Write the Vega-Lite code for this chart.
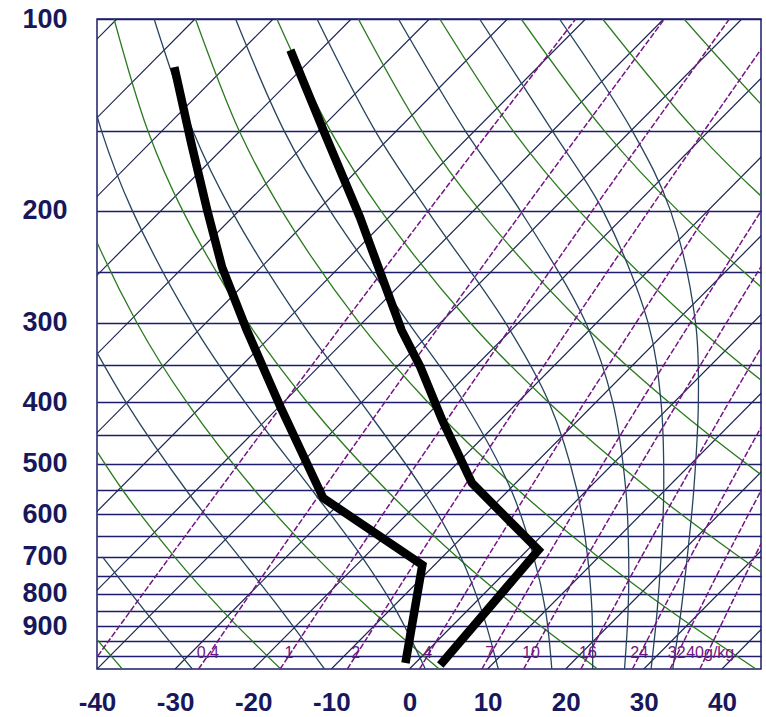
{
  "$schema": "https://vega.github.io/schema/vega-lite/v6.json",
  "width": 664,
  "height": 650,
  "autosize": {"type": "none"},
  "padding": {"left": 97, "top": 19, "right": 5, "bottom": 48},
  "background": "white",
  "config": {"view": {"stroke": "#1d1d6b", "strokeWidth": 1.5}, "font": "Liberation Sans"},
  "datasets": {
    "iso": [
      {"id":-120,"i":0,"x":-120,"p":1050},{"id":-120,"i":1,"x":-37.46,"p":100},
      {"id":-110,"i":0,"x":-110,"p":1050},{"id":-110,"i":1,"x":-27.46,"p":100},
      {"id":-100,"i":0,"x":-100,"p":1050},{"id":-100,"i":1,"x":-17.46,"p":100},
      {"id":-90,"i":0,"x":-90,"p":1050},{"id":-90,"i":1,"x":-7.46,"p":100},
      {"id":-80,"i":0,"x":-80,"p":1050},{"id":-80,"i":1,"x":2.54,"p":100},
      {"id":-70,"i":0,"x":-70,"p":1050},{"id":-70,"i":1,"x":12.54,"p":100},
      {"id":-60,"i":0,"x":-60,"p":1050},{"id":-60,"i":1,"x":22.54,"p":100},
      {"id":-50,"i":0,"x":-50,"p":1050},{"id":-50,"i":1,"x":32.54,"p":100},
      {"id":-40,"i":0,"x":-40,"p":1050},{"id":-40,"i":1,"x":42.54,"p":100},
      {"id":-30,"i":0,"x":-30,"p":1050},{"id":-30,"i":1,"x":52.54,"p":100},
      {"id":-20,"i":0,"x":-20,"p":1050},{"id":-20,"i":1,"x":62.54,"p":100},
      {"id":-10,"i":0,"x":-10,"p":1050},{"id":-10,"i":1,"x":72.54,"p":100},
      {"id":0,"i":0,"x":0,"p":1050},{"id":0,"i":1,"x":82.54,"p":100},
      {"id":10,"i":0,"x":10,"p":1050},{"id":10,"i":1,"x":92.54,"p":100},
      {"id":20,"i":0,"x":20,"p":1050},{"id":20,"i":1,"x":102.54,"p":100},
      {"id":30,"i":0,"x":30,"p":1050},{"id":30,"i":1,"x":112.54,"p":100},
      {"id":40,"i":0,"x":40,"p":1050},{"id":40,"i":1,"x":122.54,"p":100}
    ],
    "dry": [
      {"id":-40,"i":0,"x":-36.758,"p":1050},{"id":-40,"i":1,"x":-43.062,"p":850},{"id":-40,"i":2,"x":-48.153,"p":700},
      {"id":-20,"i":0,"x":-16.48,"p":1050},{"id":-20,"i":1,"x":-23.961,"p":850},{"id":-20,"i":2,"x":-30.073,"p":700},{"id":-20,"i":3,"x":-36.703,"p":550},{"id":-20,"i":4,"x":-43.946,"p":400},
      {"id":0,"i":0,"x":3.798,"p":1050},{"id":0,"i":1,"x":-4.86,"p":850},{"id":0,"i":2,"x":-11.993,"p":700},{"id":0,"i":3,"x":-19.816,"p":550},{"id":0,"i":4,"x":-28.514,"p":400},{"id":0,"i":5,"x":-34.894,"p":300},{"id":0,"i":6,"x":-41.721,"p":200},{"id":0,"i":7,"x":-45.167,"p":150},
      {"id":20,"i":0,"x":24.076,"p":1050},{"id":20,"i":1,"x":14.241,"p":850},{"id":20,"i":2,"x":6.087,"p":700},{"id":20,"i":3,"x":-2.929,"p":550},{"id":20,"i":4,"x":-13.082,"p":400},{"id":20,"i":5,"x":-20.669,"p":300},{"id":20,"i":6,"x":-29.038,"p":200},{"id":20,"i":7,"x":-33.476,"p":150},{"id":20,"i":8,"x":-37.819,"p":100},
      {"id":40,"i":0,"x":44.354,"p":1050},{"id":40,"i":1,"x":33.342,"p":850},{"id":40,"i":2,"x":24.167,"p":700},{"id":40,"i":3,"x":13.958,"p":550},{"id":40,"i":4,"x":2.35,"p":400},{"id":40,"i":5,"x":-6.444,"p":300},{"id":40,"i":6,"x":-16.355,"p":200},{"id":40,"i":7,"x":-21.785,"p":150},{"id":40,"i":8,"x":-27.395,"p":100},
      {"id":60,"i":0,"x":64.632,"p":1050},{"id":60,"i":1,"x":52.443,"p":850},{"id":60,"i":2,"x":42.247,"p":700},{"id":60,"i":3,"x":30.845,"p":550},{"id":60,"i":4,"x":17.782,"p":400},{"id":60,"i":5,"x":7.781,"p":300},{"id":60,"i":6,"x":-3.672,"p":200},{"id":60,"i":7,"x":-10.094,"p":150},{"id":60,"i":8,"x":-16.971,"p":100},
      {"id":80,"i":0,"x":84.91,"p":1050},{"id":80,"i":1,"x":71.544,"p":850},{"id":80,"i":2,"x":60.327,"p":700},{"id":80,"i":3,"x":47.732,"p":550},{"id":80,"i":4,"x":33.214,"p":400},{"id":80,"i":5,"x":22.006,"p":300},{"id":80,"i":6,"x":9.011,"p":200},{"id":80,"i":7,"x":1.597,"p":150},{"id":80,"i":8,"x":-6.547,"p":100},
      {"id":100,"i":1,"x":90.645,"p":850},{"id":100,"i":2,"x":78.407,"p":700},{"id":100,"i":3,"x":64.619,"p":550},{"id":100,"i":4,"x":48.646,"p":400},{"id":100,"i":5,"x":36.231,"p":300},{"id":100,"i":6,"x":21.694,"p":200},{"id":100,"i":7,"x":13.288,"p":150},{"id":100,"i":8,"x":3.877,"p":100},
      {"id":120,"i":3,"x":81.506,"p":550},{"id":120,"i":4,"x":64.078,"p":400},{"id":120,"i":5,"x":50.456,"p":300},{"id":120,"i":6,"x":34.377,"p":200},{"id":120,"i":7,"x":24.979,"p":150},{"id":120,"i":8,"x":14.301,"p":100},
      {"id":140,"i":3,"x":98.393,"p":550},{"id":140,"i":4,"x":79.51,"p":400},{"id":140,"i":5,"x":64.681,"p":300},{"id":140,"i":6,"x":47.06,"p":200},{"id":140,"i":7,"x":36.67,"p":150},{"id":140,"i":8,"x":24.725,"p":100},
      {"id":160,"i":4,"x":94.942,"p":400},{"id":160,"i":5,"x":78.906,"p":300},{"id":160,"i":6,"x":59.743,"p":200},{"id":160,"i":7,"x":48.361,"p":150},{"id":160,"i":8,"x":35.149,"p":100}
    ],
    "moist": [
      {"id":243,"i":0,"x":-27.8,"p":1050},{"id":243,"i":1,"x":-33.9,"p":850},{"id":243,"i":2,"x":-39.3,"p":700},
      {"id":263,"i":0,"x":-10.88,"p":1050},{"id":263,"i":1,"x":-16.4,"p":850},{"id":263,"i":2,"x":-21.79,"p":700},{"id":263,"i":3,"x":-28.57,"p":550},{"id":263,"i":4,"x":-36.3,"p":400},{"id":263,"i":5,"x":-42.1,"p":300},
      {"id":283,"i":0,"x":2.03,"p":1050},{"id":283,"i":1,"x":-1.7,"p":850},{"id":283,"i":2,"x":-6.09,"p":700},{"id":283,"i":3,"x":-12.45,"p":550},{"id":283,"i":4,"x":-21.06,"p":400},{"id":283,"i":5,"x":-27.88,"p":300},{"id":283,"i":6,"x":-35.48,"p":200},{"id":283,"i":7,"x":-39.41,"p":150},{"id":283,"i":8,"x":-43.1,"p":100},
      {"id":303,"i":0,"x":11.37,"p":1050},{"id":303,"i":1,"x":9.25,"p":850},{"id":303,"i":2,"x":6.57,"p":700},{"id":303,"i":3,"x":1.77,"p":550},{"id":303,"i":4,"x":-6.22,"p":400},{"id":303,"i":5,"x":-13.81,"p":300},{"id":303,"i":6,"x":-22.79,"p":200},{"id":303,"i":7,"x":-27.72,"p":150},{"id":303,"i":8,"x":-32.69,"p":100},
      {"id":323,"i":0,"x":18.22,"p":1050},{"id":323,"i":1,"x":17.42,"p":850},{"id":323,"i":2,"x":15.9,"p":700},{"id":323,"i":3,"x":13.03,"p":550},{"id":323,"i":4,"x":7.01,"p":400},{"id":323,"i":5,"x":-0.15,"p":300},{"id":323,"i":6,"x":-10.17,"p":200},{"id":323,"i":7,"x":-16.03,"p":150},{"id":323,"i":8,"x":-22.26,"p":100},
      {"id":343,"i":0,"x":23.45,"p":1050},{"id":343,"i":1,"x":23.36,"p":850},{"id":343,"i":2,"x":22.8,"p":700},{"id":343,"i":3,"x":21.44,"p":550},{"id":343,"i":4,"x":17.85,"p":400},{"id":343,"i":5,"x":12.28,"p":300},{"id":343,"i":6,"x":2.29,"p":200},{"id":343,"i":7,"x":-4.37,"p":150},{"id":343,"i":8,"x":-11.84,"p":100},
      {"id":363,"i":0,"x":27.53,"p":1050},{"id":363,"i":1,"x":27.99,"p":850},{"id":363,"i":2,"x":28.06,"p":700},{"id":363,"i":3,"x":27.7,"p":550},{"id":363,"i":4,"x":26.02,"p":400},{"id":363,"i":5,"x":22.58,"p":300},{"id":363,"i":6,"x":14.18,"p":200},{"id":363,"i":7,"x":7.16,"p":150},{"id":363,"i":8,"x":-1.42,"p":100},
      {"id":383,"i":0,"x":30.93,"p":1050},{"id":383,"i":1,"x":31.71,"p":850},{"id":383,"i":2,"x":32.2,"p":700},{"id":383,"i":3,"x":32.55,"p":550},{"id":383,"i":4,"x":32.2,"p":400},{"id":383,"i":5,"x":30.54,"p":300},{"id":383,"i":6,"x":24.76,"p":200},{"id":383,"i":7,"x":18.31,"p":150},{"id":383,"i":8,"x":8.97,"p":100},
      {"id":403,"i":0,"x":33.7,"p":1050},{"id":403,"i":1,"x":34.77,"p":850},{"id":403,"i":2,"x":35.56,"p":700},{"id":403,"i":3,"x":36.39,"p":550},{"id":403,"i":4,"x":36.98,"p":400},{"id":403,"i":5,"x":36.62,"p":300},{"id":403,"i":6,"x":33.41,"p":200},{"id":403,"i":7,"x":28.54,"p":150},{"id":403,"i":8,"x":19.2,"p":100}
    ],
    "mix": [
      {"id":0.1,"i":0,"x":-41.11,"p":1050},{"id":0.1,"i":1,"x":-30.67,"p":700},{"id":0.1,"i":2,"x":-16.02,"p":400},{"id":0.1,"i":3,"x":2.45,"p":200},{"id":0.1,"i":4,"x":21.27,"p":100},
      {"id":0.4,"i":0,"x":-27.0,"p":1050},{"id":0.4,"i":1,"x":-17.1,"p":700},{"id":0.4,"i":2,"x":-3.15,"p":400},{"id":0.4,"i":3,"x":14.54,"p":200},{"id":0.4,"i":4,"x":32.64,"p":100},
      {"id":1,"i":0,"x":-16.55,"p":1050},{"id":1,"i":1,"x":-7.07,"p":700},{"id":1,"i":2,"x":6.34,"p":400},{"id":1,"i":3,"x":23.41,"p":200},{"id":1,"i":4,"x":40.95,"p":100},
      {"id":2,"i":0,"x":-7.95,"p":1050},{"id":2,"i":1,"x":1.16,"p":700},{"id":2,"i":2,"x":14.1,"p":400},{"id":2,"i":3,"x":30.65,"p":200},{"id":2,"i":4,"x":47.72,"p":100},
      {"id":4,"i":0,"x":1.29,"p":1050},{"id":4,"i":1,"x":10.0,"p":700},{"id":4,"i":2,"x":22.43,"p":400},{"id":4,"i":3,"x":38.4,"p":200},
      {"id":7,"i":0,"x":9.27,"p":1050},{"id":7,"i":1,"x":17.62,"p":700},{"id":7,"i":2,"x":29.59,"p":400},{"id":7,"i":3,"x":45.04,"p":200},
      {"id":10,"i":0,"x":14.61,"p":1050},{"id":10,"i":1,"x":22.71,"p":700},{"id":10,"i":2,"x":34.36,"p":400},{"id":10,"i":3,"x":49.46,"p":200},
      {"id":16,"i":0,"x":21.94,"p":1050},{"id":16,"i":1,"x":29.69,"p":700},{"id":16,"i":2,"x":40.9,"p":400},{"id":16,"i":3,"x":55.52,"p":200},
      {"id":24,"i":0,"x":28.54,"p":1050},{"id":24,"i":1,"x":35.97,"p":700},{"id":24,"i":2,"x":46.77,"p":400},
      {"id":32,"i":0,"x":33.36,"p":1050},{"id":32,"i":1,"x":40.55,"p":700},{"id":32,"i":2,"x":51.05,"p":400},
      {"id":40,"i":0,"x":37.17,"p":1050},{"id":40,"i":1,"x":44.16,"p":700},{"id":40,"i":2,"x":54.42,"p":400}
    ],
    "mixlab": [
      {"t":"0.4","x":-25.82,"p":990},{"t":"1","x":-15.42,"p":990},{"t":"2","x":-6.87,"p":990},{"t":"4","x":2.32,"p":990},{"t":"7","x":10.26,"p":990},{"t":"10","x":15.56,"p":990},{"t":"16","x":22.85,"p":990},{"t":"24","x":29.41,"p":990},{"t":"32","x":34.2,"p":990},{"t":"40g/kg","x":38.5,"p":990}
    ],
    "temp": [
      {"i":0,"x":-15.24,"p":111.9},{"i":1,"x":-10.67,"p":153.2},{"i":2,"x":-6.35,"p":204.7},{"i":3,"x":-1.02,"p":308.1},{"i":4,"x":1.4,"p":352.3},{"i":5,"x":4.19,"p":426.6},{"i":6,"x":8.0,"p":535.8},{"i":7,"x":16.51,"p":682.8},{"i":8,"x":3.94,"p":1035}
    ],
    "dew": [
      {"i":0,"x":-30.1,"p":119.0},{"i":1,"x":-27.94,"p":156.6},{"i":2,"x":-25.9,"p":199.5},{"i":3,"x":-24.0,"p":245.3},{"i":4,"x":-20.83,"p":308.1},{"i":5,"x":-16.51,"p":406.9},{"i":6,"x":-11.05,"p":565.6},{"i":7,"x":1.65,"p":720.8},{"i":8,"x":-0.51,"p":1027.5}
    ]
  },
  "encoding": {
    "x": {"field": "x", "type": "quantitative", "scale": {"domain": [-40, 45], "nice": false, "zero": false},
      "axis": {"values": [-40, -30, -20, -10, 0, 10, 20, 30, 40], "labelExpr": "datum.value < 0 ? '-' + abs(datum.value) : '' + datum.value", "title": null, "ticks": false, "domain": false, "grid": false, "labelFontSize": 26, "labelFont": "Liberation Sans", "labelFontWeight": "bold", "labelColor": "#17175c", "labelBaseline": "bottom", "labelPadding": 46, "labelFlush": false, "labelOverlap": false, "labelBound": false}},
    "y": {"field": "p", "type": "quantitative", "scale": {"type": "log", "domain": [100, 1050], "reverse": true, "nice": false},
      "axis": {"values": [100, 150, 200, 250, 300, 350, 400, 450, 500, 550, 600, 650, 700, 750, 800, 850, 900, 950, 1000], "labelExpr": "indexof([100,200,300,400,500,600,700,800,900], datum.value) >= 0 ? datum.label : ''", "format": "d", "title": null, "ticks": false, "domain": false, "grid": true, "gridColor": "#1d1d6b", "gridWidth": 1.6, "gridOpacity": 1, "labelFontSize": 27, "labelFont": "Liberation Sans", "labelFontWeight": "bold", "labelColor": "#17175c", "labelPadding": 30, "labelOverlap": false, "labelFlush": false, "labelBound": false}}
  },
  "layer": [
    {
      "data": {"name": "iso"},
      "mark": {"type": "line", "color": "#1a2450", "strokeWidth": 1.2, "clip": true},
      "encoding": {"detail": {"field": "id"}, "order": {"field": "i"}}
    },
    {
      "data": {"name": "dry"},
      "mark": {"type": "line", "color": "#2a7a1e", "strokeWidth": 1.3, "interpolate": "catmull-rom", "clip": true},
      "encoding": {"detail": {"field": "id"}, "order": {"field": "i"}}
    },
    {
      "data": {"name": "moist"},
      "mark": {"type": "line", "color": "#27445f", "strokeWidth": 1.3, "interpolate": "catmull-rom", "clip": true},
      "encoding": {"detail": {"field": "id"}, "order": {"field": "i"}}
    },
    {
      "data": {"name": "mix"},
      "mark": {"type": "line", "color": "#741585", "strokeWidth": 1.5, "strokeDash": [6, 2], "interpolate": "catmull-rom", "clip": true},
      "encoding": {"detail": {"field": "id"}, "order": {"field": "i"}}
    },
    {
      "data": {"name": "mixlab"},
      "mark": {"type": "text", "color": "#6f1680", "fontSize": 16, "align": "center", "baseline": "middle", "font": "Liberation Sans"},
      "encoding": {"text": {"field": "t"}}
    },
    {
      "data": {"name": "dew"},
      "mark": {"type": "line", "color": "black", "strokeWidth": 8.5, "strokeJoin": "miter", "strokeCap": "butt", "clip": true},
      "encoding": {"order": {"field": "i"}}
    },
    {
      "data": {"name": "temp"},
      "mark": {"type": "line", "color": "black", "strokeWidth": 8.5, "strokeJoin": "miter", "strokeCap": "butt", "clip": true},
      "encoding": {"order": {"field": "i"}}
    }
  ]
}
